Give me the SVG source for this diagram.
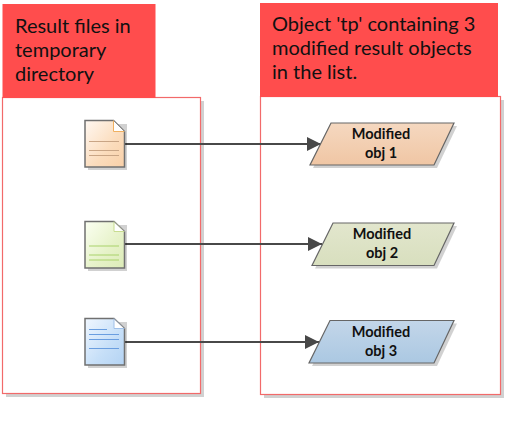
<svg xmlns="http://www.w3.org/2000/svg" width="509" height="421" viewBox="0 0 509 421">
<style>
.head{fill:#ff4d4d}
.panel{fill:#fff;stroke:#f26a6a;stroke-width:1.2}
.shadow{fill:#000;opacity:.18}
.title{font:20px Lato,"Liberation Sans",sans-serif;fill:#111}
.lab{font:bold 14.500px Lato,"Liberation Sans",sans-serif;fill:#111;text-anchor:middle}
.doc{stroke:#707070;stroke-width:1.500}
.para{stroke:#666;stroke-width:1.200}
.conn{stroke:#484848;stroke-width:2.200;fill:none;marker-end:url(#arr)}
</style>
<defs>
<marker id="arr" markerUnits="userSpaceOnUse" markerWidth="15" markerHeight="15" refX="14" refY="7.500" orient="auto"><path d="M0 0.500L14 7.500L0 14.500Z" fill="#484848"/></marker>
<linearGradient id="d1" x1="0" y1="0" x2="1" y2="1"><stop offset="0" stop-color="#fff8f2"/><stop offset=".6" stop-color="#fbdcbc"/><stop offset="1" stop-color="#f9d0a8"/></linearGradient>
<linearGradient id="d2" x1="0" y1="0" x2="1" y2="1"><stop offset="0" stop-color="#fbfff2"/><stop offset=".6" stop-color="#e6f2c8"/><stop offset="1" stop-color="#dcebb8"/></linearGradient>
<linearGradient id="d3" x1="0" y1="0" x2="1" y2="1"><stop offset="0" stop-color="#f0f7ff"/><stop offset=".6" stop-color="#c6dff8"/><stop offset="1" stop-color="#b4d3f3"/></linearGradient>
<linearGradient id="p1" x1="0" y1="0" x2="0" y2="1"><stop offset="0" stop-color="#f5d8c0"/><stop offset="1" stop-color="#f0c6a4"/></linearGradient>
<linearGradient id="p2" x1="0" y1="0" x2="0" y2="1"><stop offset="0" stop-color="#e2e6cd"/><stop offset="1" stop-color="#d8dfbe"/></linearGradient>
<linearGradient id="p3" x1="0" y1="0" x2="0" y2="1"><stop offset="0" stop-color="#c3d6e9"/><stop offset="1" stop-color="#abc8e2"/></linearGradient>
</defs>
<rect width="509" height="421" fill="#fff"/>
<g id="left-panel">
<rect class="shadow" x="6" y="101" width="198" height="296"/>
<rect class="panel" x="2.500" y="97.500" width="198" height="296"/>
<rect class="head" x="2.500" y="4" width="153" height="94"/>
<text class="title"><tspan x="15" y="33">Result files in</tspan><tspan x="15" y="57">temporary</tspan><tspan x="15" y="81">directory</tspan></text>
</g>
<g id="right-panel">
<rect class="shadow" x="264" y="100" width="240" height="298"/>
<rect class="panel" x="260.500" y="96.500" width="240" height="298"/>
<rect class="head" x="260" y="3" width="238" height="94"/>
<text class="title"><tspan x="272" y="31">Object 'tp' containing 3</tspan><tspan x="272" y="55">modified result objects</tspan><tspan x="272" y="79">in the list.</tspan></text>
</g>
<g id="connectors">
<line class="conn" x1="125" y1="144" x2="321" y2="144"/>
<line class="conn" x1="125" y1="244" x2="322" y2="244"/>
<line class="conn" x1="125" y1="342" x2="319" y2="342"/>
</g>
<g id="file-1">
<rect class="shadow" x="88" y="124" width="39" height="46"/>
<path class="doc" fill="url(#d1)" d="M85 120.500H113.500L124.500 131.500V167H85Z"/>
<path d="M113.500 120.500V131.500H124.500Z" fill="#fff" stroke="#f0b060"/><path d="M113.500 120.500L124.500 131.500" stroke="#888" fill="none"/>
<path d="M89 141.500H119M89 150.500H119M89 155.500H119" stroke="#c9a585" fill="none"/>
</g>
<g id="file-2">
<rect class="shadow" x="88" y="225" width="39" height="46"/>
<path class="doc" fill="url(#d2)" d="M85 221.500H114L124.500 231.500V268H85Z"/>
<path d="M114 221.500V231.500H124.500Z" fill="#fff" stroke="#c8dc90"/><path d="M114 221.500L124.500 231.500" stroke="#888" fill="none"/>
<path d="M89 246H119M89 255H119M89 260H119" stroke="#a9d26a" fill="none"/>
</g>
<g id="file-3">
<rect class="shadow" x="88" y="322" width="39" height="46"/>
<path class="doc" fill="url(#d3)" d="M85 318.500H114L124.500 328.500V365H85Z"/>
<path d="M114 318.500V328.500H124.500Z" fill="#fff" stroke="#a0c0e8"/><path d="M114 318.500L124.500 328.500" stroke="#888" fill="none"/>
<path d="M89 329.500H107M89 334.500H119M89 339.500H119M89 348.500H119" stroke="#6a9ee0" fill="none"/>
</g>
<g id="obj-1">
<path class="shadow" d="M334 126H457L437 168H313Z"/>
<path class="para" fill="url(#p1)" d="M331 123H454L434 165H310Z"/>
<text class="lab"><tspan x="381" y="138.500">Modified</tspan><tspan x="381" y="158">obj 1</tspan></text>
</g>
<g id="obj-2">
<path class="shadow" d="M336 226H457L437 268.500H315Z"/>
<path class="para" fill="url(#p2)" d="M333 223H454L434 265.500H312Z"/>
<text class="lab"><tspan x="382" y="239">Modified</tspan><tspan x="382" y="258">obj 2</tspan></text>
</g>
<g id="obj-3">
<path class="shadow" d="M333 323.500H457L437 366H312Z"/>
<path class="para" fill="url(#p3)" d="M330 320.500H454L434 363H309Z"/>
<text class="lab"><tspan x="381" y="336.500">Modified</tspan><tspan x="381" y="355.500">obj 3</tspan></text>
</g>
</svg>
